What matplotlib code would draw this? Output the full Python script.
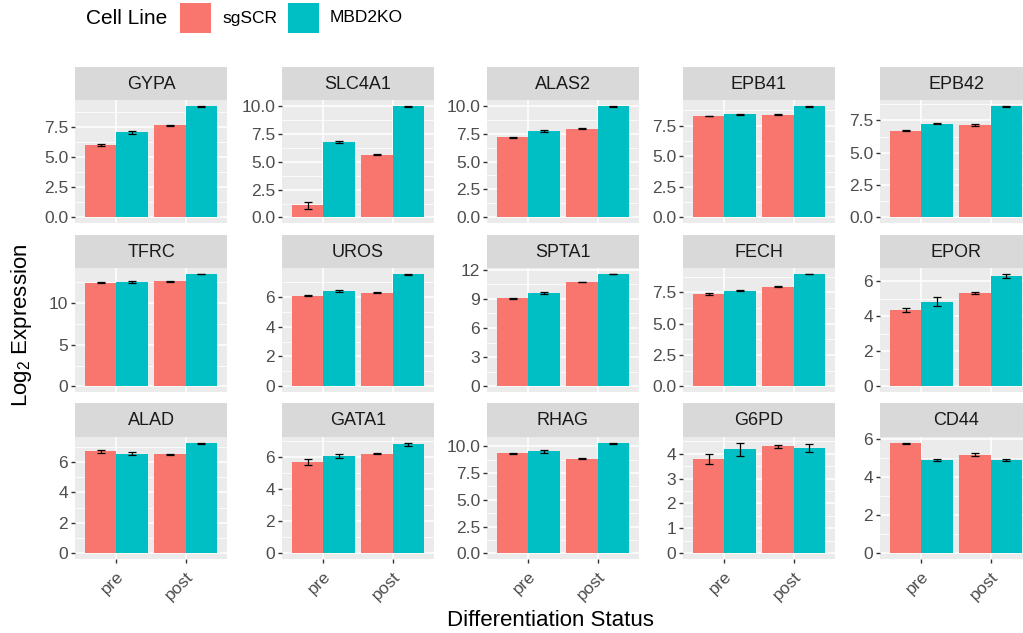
import numpy as np
import matplotlib
matplotlib.use("Agg")
from matplotlib import pyplot as plt
from matplotlib.patches import Rectangle

plt.rcParams['font.family'] = ['Liberation Sans', 'DejaVu Sans']

genes = ['GYPA', 'SLC4A1', 'ALAS2', 'EPB41', 'EPB42',
         'TFRC', 'UROS', 'SPTA1', 'FECH', 'EPOR',
         'ALAD', 'GATA1', 'RHAG', 'G6PD', 'CD44']
status = ['pre', 'post']
lines = ['sgSCR', 'MBD2KO']

# mean values: [pre sgSCR, pre MBD2KO, post sgSCR, post MBD2KO]
means = {
    'GYPA':   [6.00, 7.05, 7.65, 9.20],
    'SLC4A1': [1.10, 6.80, 5.65, 10.00],
    'ALAS2':  [7.15, 7.75, 7.95, 9.95],
    'EPB41':  [8.30, 8.45, 8.40, 9.10],
    'EPB42':  [6.72, 7.25, 7.15, 8.60],
    'TFRC':   [12.45, 12.60, 12.65, 13.50],
    'UROS':   [6.05, 6.38, 6.25, 7.50],
    'SPTA1':  [9.05, 9.60, 10.75, 11.55],
    'FECH':   [7.35, 7.62, 7.95, 8.95],
    'EPOR':   [4.35, 4.82, 5.30, 6.30],
    'ALAD':   [6.68, 6.52, 6.48, 7.22],
    'GATA1':  [5.70, 6.10, 6.22, 6.82],
    'RHAG':   [9.35, 9.52, 8.85, 10.30],
    'G6PD':   [3.78, 4.17, 4.30, 4.23],
    'CD44':   [5.77, 4.90, 5.17, 4.88],
}
errs = {
    'GYPA':   [0.10, 0.12, 0.04, 0.07],
    'SLC4A1': [0.30, 0.12, 0.05, 0.08],
    'ALAS2':  [0.05, 0.08, 0.05, 0.05],
    'EPB41':  [0.03, 0.04, 0.04, 0.04],
    'EPB42':  [0.07, 0.06, 0.05, 0.05],
    'TFRC':   [0.05, 0.12, 0.05, 0.05],
    'UROS':   [0.03, 0.08, 0.03, 0.04],
    'SPTA1':  [0.05, 0.08, 0.03, 0.04],
    'FECH':   [0.06, 0.05, 0.05, 0.03],
    'EPOR':   [0.10, 0.25, 0.06, 0.12],
    'ALAD':   [0.08, 0.10, 0.03, 0.04],
    'GATA1':  [0.20, 0.12, 0.03, 0.10],
    'RHAG':   [0.05, 0.12, 0.05, 0.05],
    'G6PD':   [0.20, 0.27, 0.06, 0.15],
    'CD44':   [0.03, 0.04, 0.08, 0.05],
}
yticks = {
    'GYPA': [0, 2.5, 5, 7.5], 'SLC4A1': [0, 2.5, 5, 7.5, 10], 'ALAS2': [0, 2.5, 5, 7.5, 10],
    'EPB41': [0, 2.5, 5, 7.5], 'EPB42': [0, 2.5, 5, 7.5],
    'TFRC': [0, 5, 10], 'UROS': [0, 2, 4, 6], 'SPTA1': [0, 3, 6, 9, 12],
    'FECH': [0, 2.5, 5, 7.5], 'EPOR': [0, 2, 4, 6],
    'ALAD': [0, 2, 4, 6], 'GATA1': [0, 2, 4, 6], 'RHAG': [0, 2.5, 5, 7.5, 10],
    'G6PD': [0, 1, 2, 3, 4], 'CD44': [0, 2, 4, 6],
}

colors = ['#F8766D', '#00BFC4']
W, H = 1023, 633
fig = plt.figure(figsize=(W / 100, H / 100), dpi=100)

col_x = [75, 282, 487, 683, 880]
pw = 152
row_y = [(67, 100, 223), (235, 268, 392), (403, 437, 559)]


def fr(x0, y0, x1, y1):
    return [x0 / W, 1 - y1 / H, (x1 - x0) / W, (y1 - y0) / H]


for i, g in enumerate(genes):
    r, c = divmod(i, 5)
    st, pt, pb = row_y[r]
    x0 = col_x[c]
    # strip
    sax = fig.add_axes(fr(x0, st, x0 + pw, pt))
    sax.set_facecolor('#D9D9D9')
    sax.set_xticks([]); sax.set_yticks([])
    for s in sax.spines.values():
        s.set_visible(False)
    sax.text(0.5, 0.48, g, ha='center', va='center', fontsize=13, color='#1A1A1A',
             transform=sax.transAxes)

    ax = fig.add_axes(fr(x0, pt, x0 + pw, pb))
    ax.set_facecolor('#EBEBEB')
    for s in ax.spines.values():
        s.set_visible(False)
    m = np.array(means[g]).reshape(2, 2)
    e = np.array(errs[g]).reshape(2, 2)
    xs = np.arange(1, 3)
    for k in range(2):
        ax.bar(xs - 0.225 + 0.45 * k, m[:, k], width=0.45, color=colors[k], zorder=3)
        ax.errorbar(xs - 0.225 + 0.45 * k, m[:, k], yerr=e[:, k], fmt='none',
                    ecolor='black', elinewidth=0.9, capsize=3, capthick=0.9, zorder=4)
    top = (m + e).max()
    ax.set_ylim(-0.05 * top, 1.05 * top)
    ax.set_xlim(0.4, 2.6)
    t = yticks[g]
    step = t[1] - t[0]
    dec = any(v != int(v) for v in t)
    ax.set_yticks(t)
    ax.set_yticklabels([('%.1f' % v) if dec else ('%d' % v) for v in t])
    minors = [v + step / 2 for v in t if v + step / 2 < 1.05 * top]
    ax.set_yticks(minors, minor=True)
    ax.grid(True, which='major', color='white', lw=1.1, zorder=0)
    ax.grid(True, which='minor', axis='y', color='white', lw=0.55, zorder=0)
    ax.tick_params(axis='y', which='minor', length=0)
    ax.tick_params(axis='y', which='major', length=3, width=1, color='#333333',
                   labelcolor='#4D4D4D', labelsize=12.5, pad=2)
    ax.set_xticks(xs)
    if r == 2:
        ax.set_xticklabels(status, rotation=45, ha='right', va='top',
                           rotation_mode='anchor')
        ax.tick_params(axis='x', length=3, width=1, color='#333333',
                       labelcolor='#4D4D4D', labelsize=12.5, pad=4)
    else:
        ax.set_xticklabels([])
        ax.tick_params(axis='x', length=0)
    ax.set_axisbelow(True)

fig.text(22 / W, 1 - 325 / H, 'Log$_{\\mathregular{2}}$ Expression', rotation=90,
         ha='center', va='center', fontsize=16)
fig.text(550 / W, 1 - 620 / H, 'Differentiation Status', ha='center', va='center',
         fontsize=16)

# legend
fig.text(86 / W, 1 - 18 / H, 'Cell Line', ha='left', va='center', fontsize=15)
for k, (lab, lx) in enumerate(zip(lines, [180, 288])):
    fig.patches.append(Rectangle((lx / W, 1 - 33 / H), 31 / W, 30 / H, transform=fig.transFigure,
                                 facecolor=colors[k], edgecolor='none'))
    fig.text((lx + 42) / W, 1 - 18 / H, lab, ha='left', va='center', fontsize=12.5)

fig.savefig('out.png', dpi=100)
